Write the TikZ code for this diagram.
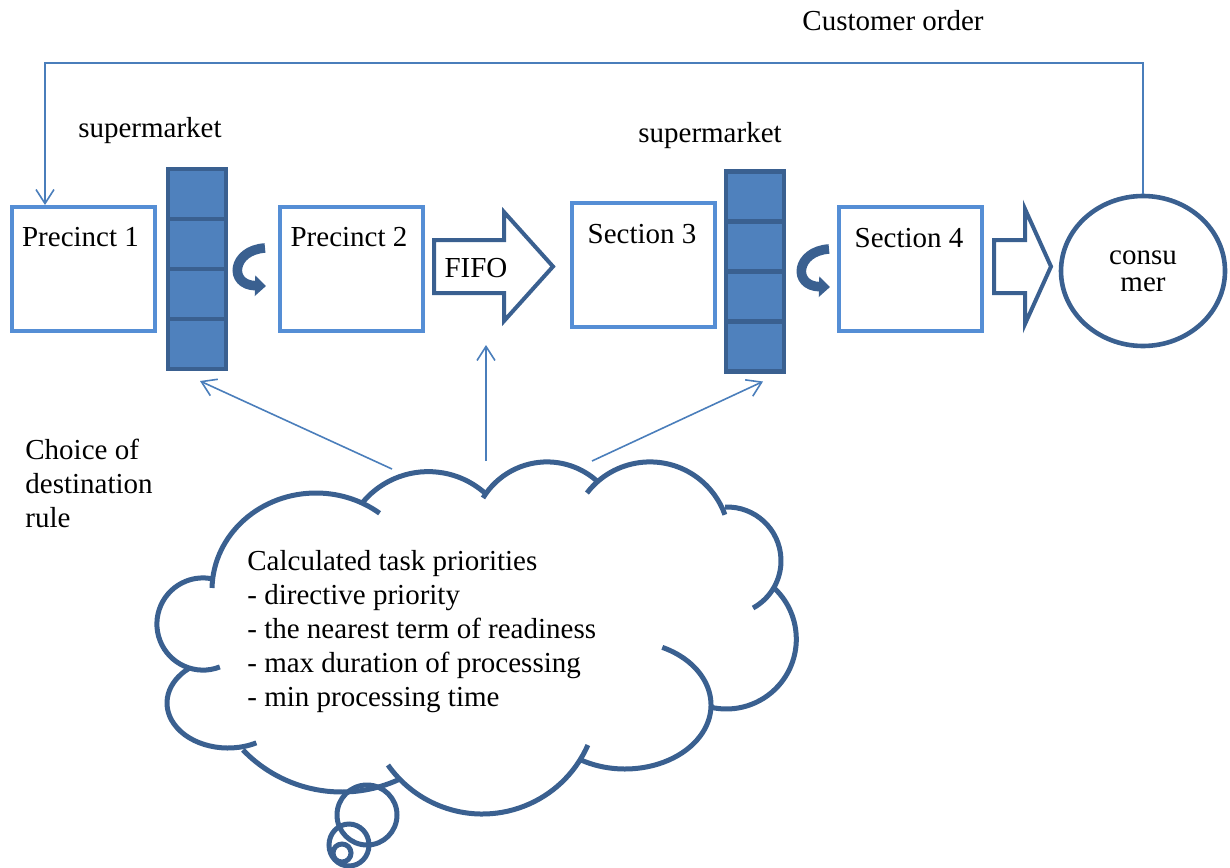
\documentclass[tikz,border=0pt]{standalone}
\usepackage{fontspec}
\setmainfont{Liberation Serif}
\usetikzlibrary{positioning,shapes.geometric,arrows.meta}

\definecolor{boxblue}{HTML}{558ED5}
\definecolor{darkblue}{HTML}{3A6090}
\definecolor{fillblue}{HTML}{4F81BD}
\definecolor{lineblue}{HTML}{4A7EBB}

% one puff of the cloud: centre x, centre y, radius, start angle, end angle
\newcommand{\puff}[5]{\draw[cloudline] (#1,#2) ++(#4:#3) arc[start angle=#4,end angle=#5,radius=#3];}
% same with two radii
\newcommand{\ovalpuff}[6]{\draw[cloudline] (#1,#2) ++(#5:#3 and #4) arc[start angle=#5,end angle=#6,x radius=#3,y radius=#4];}

\begin{document}
\begin{tikzpicture}[x=0.5pt,y=-0.5pt,
    every node/.style={font=\fontsize{14.5}{17}\selectfont},
    stage/.style={draw=boxblue,line width=2pt,minimum width=71.5pt,minimum height=62pt,inner sep=0pt},
    shelf/.style={draw=darkblue,fill=fillblue,line width=2.3pt,minimum width=29pt,minimum height=100pt,inner sep=0pt,outer sep=0pt},
    shelfline/.style={draw=darkblue,line width=2.3pt},
    blockarrow/.style={draw=darkblue,fill=white,line width=2pt},
    turn/.style={draw=darkblue,line width=4.8pt,-{Triangle[length=5.5pt,width=10pt]}},
    pointer/.style={draw=lineblue,line width=0.8pt,-{Straight Barb[length=7pt,width=9pt]}},
    cloudline/.style={draw=darkblue,line width=2.5pt}]
  \useasboundingbox (0,0) rectangle (1230,867);

  % stations
  \node[stage] (pr1)  at (83.5,269)    {};
  \node[stage] (pr2)  at (351.5,269)   {};
  \node[stage] (sec3) at (643,265)     {};
  \node[stage] (sec4) at (910.5,268.5) {};
  \node[anchor=base] (pr1txt)  at (80.5,246) {Precinct 1};
  \node[anchor=base] (pr2txt)  at (349,246)  {Precinct 2};
  \node[anchor=base] (sec3txt) at (642,243)  {Section 3};
  \node[anchor=base] (sec4txt) at (909,247)  {Section 4};

  % supermarkets
  \node[shelf] (sm1) at (197,269)   {};
  \node[shelf] (sm2) at (755,271.5) {};
  \foreach \s in {sm1,sm2}
    \foreach \k in {1,2,3}
      \draw[shelfline] (\s.north west) ++(0,50*\k) -- ++(58,0);
  \node[anchor=base] (sm1txt) at (150,137) {supermarket};
  \node[anchor=base] (sm2txt) at (710,142) {supermarket};

  \draw[turn] ([shift={(39,-21)}]sm1.east) .. controls +(-33,2) and +(-38,-1) .. ([shift={(40,17)}]sm1.east);
  \draw[turn] ([shift={(45,-22.5)}]sm2.east) .. controls +(-33,2) and +(-38,-1) .. ([shift={(46,15.5)}]sm2.east);

  % block arrows
  \draw[blockarrow] (434,240) -- (504,240) -- (504,212) -- (553,266.5) -- (504,321) -- (504,293) -- (434,293) -- cycle;
  \node[anchor=base] (fifo) at (476,277) {FIFO};
  \draw[blockarrow] (994,240) -- (1025,240) -- (1025,209) -- (1051,266.5) -- (1025,324) -- (1025,293) -- (994,293) -- cycle;

  % consumer and order loop
  \node[ellipse,draw=darkblue,line width=2.3pt,minimum width=82pt,minimum height=75pt,inner sep=0pt,align=center] (cons) at (1143,271) {consu\\[-3.5pt]mer};
  \node[anchor=base] (order) at (893,31) {Customer order};
  \coordinate (corner) at (45,63);
  \draw[pointer] (cons.north) |- (corner) -- (corner |- pr1.north);

  % cloud
  \ovalpuff{316}{590}{104}{97}{181.2}{307.7}
  \puff{428.3}{557.0}{85.4}{220.1}{312.5}
  \puff{547.0}{536.7}{74.8}{211.2}{311.9}
  \puff{650.0}{541.4}{79.5}{217.5}{340.4}
  \puff{727.2}{560.8}{53.8}{267.7}{421.3}
  \puff{726.4}{639.1}{69.9}{311.8}{463.6}
  \ovalpuff{625}{705}{86}{64}{-64.3}{121.6}
  \puff{482.3}{698.7}{115.3}{23.7}{144.9}
  \puff{341.7}{655.0}{137}{64.8}{136.1}
  \ovalpuff{228}{703}{61}{45}{62.3}{230.1}
  \puff{203}{624}{46.1}{68.6}{282.5}
  \draw[cloudline] (367,815) circle[radius=30];
  \draw[cloudline] (349,845) ellipse[x radius=20,y radius=21];
  \draw[cloudline] (342,853) circle[radius=9];

  \node[anchor=north west,inner sep=0pt,align=left] (prio) at (247,550)
    {Calculated task priorities\\- directive priority\\- the nearest term of readiness\\- max duration of processing\\- min processing time};
  \node[anchor=north west,inner sep=0pt,align=left] (rule) at (25,439) {Choice of\\destination\\rule};

  % choice of destination
  \coordinate (cl1) at (392,469);
  \coordinate (cl2) at (486,461);
  \coordinate (cl3) at (592,461);
  \draw[pointer] (cl1) -- ([shift={(3,12)}]sm1.south);
  \draw[pointer] (cl2) -- ++(0,-116);
  \draw[pointer] (cl3) -- ([shift={(8,10)}]sm2.south);
\end{tikzpicture}
\end{document}
